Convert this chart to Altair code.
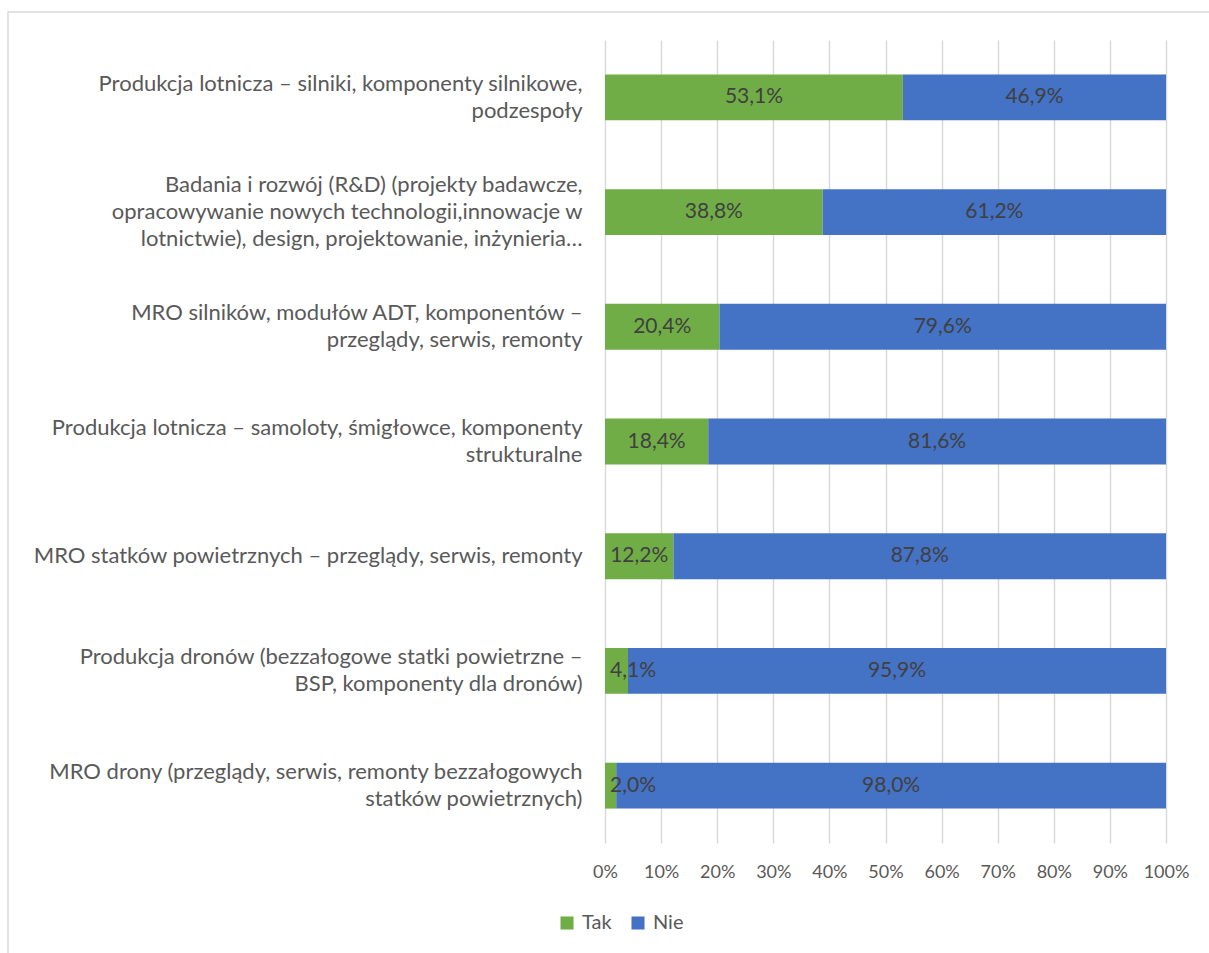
import altair as alt
import pandas as pd

# Categories (top to bottom) and the share of "Tak" / "Nie" answers, in percent
categories = [
    "Produkcja lotnicza – silniki, komponenty silnikowe,\npodzespoły",
    "Badania i rozwój (R&D) (projekty badawcze,\nopracowywanie nowych technologii,innowacje w\nlotnictwie), design, projektowanie, inżynieria…",
    "MRO silników, modułów ADT, komponentów –\nprzeglądy, serwis, remonty",
    "Produkcja lotnicza – samoloty, śmigłowce, komponenty\nstrukturalne",
    "MRO statków powietrznych – przeglądy, serwis, remonty",
    "Produkcja dronów (bezzałogowe statki powietrzne –\nBSP, komponenty dla dronów)",
    "MRO drony (przeglądy, serwis, remonty bezzałogowych\nstatków powietrznych)",
]
tak = [53.1, 38.8, 20.4, 18.4, 12.2, 4.1, 2.0]
nie = [46.9, 61.2, 79.6, 81.6, 87.8, 95.9, 98.0]
series = ["Tak", "Nie"]
colors = ["#70AD47", "#4472C4"]
x_ticks = list(range(0, 101, 10))

rows = []
for i, cat in enumerate(categories):
    rows.append({"cat": cat, "series": "Tak", "order": 0, "value": tak[i]})
    rows.append({"cat": cat, "series": "Nie", "order": 1, "value": nie[i]})
df = pd.DataFrame(rows)

FONT = "Lato"
GRAY = "#595959"
LINE_H = 27

# number of lines in a category label, used to centre the label block on its bar
n_lines = "length(split(datum.value, '\\n'))"

base = alt.Chart(df).transform_stack(
    stack="value",
    groupby=["cat"],
    as_=["x0", "x1"],
    sort=[alt.SortField("order", order="ascending")],
).transform_calculate(
    mid="(datum.x0 + datum.x1) / 2",
    label="replace(format(datum.value, '.1f'), '.', ',') + '%'",
)

y_enc = alt.Y(
    "cat:N",
    sort=categories,
    scale=alt.Scale(paddingInner=0.6, paddingOuter=0.3),
    axis=alt.Axis(
        title=None,
        labelExpr="split(datum.label, '\\n')",
        labelAlign="right",
        labelBaseline="middle",
        labelPadding=23,
        labelLimit=700,
        labelFont=FONT,
        labelFontSize=22,
        labelLineHeight=LINE_H,
        labelColor=GRAY,
        labelOffset={
            "condition": [
                {"test": f"{n_lines} == 3", "value": -LINE_H},
                {"test": f"{n_lines} == 1", "value": 0},
            ],
            "value": -LINE_H / 2,
        },
        ticks=False,
        domain=False,
        grid=False,
    ),
)

x_scale = alt.Scale(domain=[0, 100], nice=False)

bars = base.mark_bar().encode(
    y=y_enc,
    x=alt.X(
        "x0:Q",
        scale=x_scale,
        axis=alt.Axis(
            title=None,
            values=x_ticks,
            labelExpr="datum.value + '%'",
            labelFont=FONT,
            labelFontSize=18,
            labelColor=GRAY,
            labelPadding=20,
            labelOverlap=False,
            labelFlush=False,
            ticks=False,
            domain=False,
            grid=True,
            gridColor="#D9D9D9",
            gridWidth=1.5,
        ),
    ),
    x2="x1:Q",
    color=alt.Color(
        "series:N",
        scale=alt.Scale(domain=series, range=colors),
        sort=series,
        legend=alt.Legend(
            title=None,
            orient="none",
            direction="horizontal",
            legendX=-48,
            legendY=873,
            symbolType="square",
            symbolSize=170,
            symbolStrokeWidth=0,
            labelFont=FONT,
            labelFontSize=20,
            labelColor=GRAY,
            labelOffset=5,
            columnPadding=16,
        ),
    ),
)

# Value labels: centred in their segment, or pinned to the left edge when the segment is too narrow
labels_center = base.transform_filter("datum.mid >= 4").mark_text(
    font=FONT, fontSize=21, color="#404040", baseline="middle", align="center"
).encode(
    y=alt.Y("cat:N", sort=categories),
    x=alt.X("mid:Q", scale=x_scale),
    text="label:N",
)

labels_left = base.transform_filter("datum.mid < 4").mark_text(
    font=FONT, fontSize=21, color="#404040", baseline="middle", align="left", dx=5
).encode(
    y=alt.Y("cat:N", sort=categories),
    x=alt.X("x0:Q", scale=x_scale),
    text="label:N",
)

# Thin light-gray frame around the whole chart
frame = alt.Chart(pd.DataFrame({"f": [0]})).mark_rect(
    filled=False, stroke="#D9D9D9", strokeWidth=1.5
).encode(
    x=alt.value(-597),
    x2=alt.value(700),
    y=alt.value(-28),
    y2=alt.value(1000),
)

chart = alt.layer(frame, bars, labels_center, labels_left).properties(
    width=561,
    height=803,
    autosize=alt.AutoSizeParams(type="none"),
    padding={"left": 605, "top": 40, "right": 43, "bottom": 110},
    background="white",
).configure_view(stroke=None)

chart.save("out.html", embed_options={"renderer": "svg", "actions": False})
